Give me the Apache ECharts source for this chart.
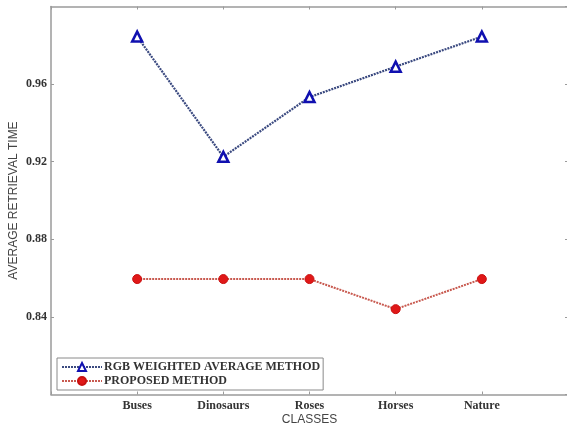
<!DOCTYPE html>
<html><head><meta charset="utf-8">
<script src="https://cdn.jsdelivr.net/npm/echarts@6/dist/echarts.min.js"></script>
<style>html,body{margin:0;padding:0;background:#fff}#c{width:567px;height:423px}</style>
</head><body><div id="c"></div>
<script>
var classes = ['Buses', 'Dinosaurs', 'Roses', 'Horses', 'Nature'];
var rgbWeighted = [0.9845, 0.9225, 0.9533, 0.9690, 0.9845];
var proposed = [0.8595, 0.8595, 0.8595, 0.8440, 0.8595];
var yTicks = { min: 0.80, max: 1.00, step: 0.04 };

var cats = [''].concat(classes).concat(['']);
var pad = function (a) { return [null].concat(a).concat([null]); };
var frame = { show: true, lineStyle: { color: '#9a9a9a', width: 1.5 } };
var tick = { show: true, inside: true, length: 3, lineStyle: { color: '#9a9a9a' } };
var tickFont = { fontFamily: 'Liberation Serif', fontWeight: 'bold', fontSize: 12, color: '#333' };
var nameFont = { fontFamily: 'Liberation Sans', fontSize: 12, color: '#444' };

var chart = echarts.init(document.getElementById('c'), null, { renderer: 'canvas' });
chart.setOption({
  animation: false,
  grid: { left: 51, top: 6.5, width: 517, height: 388, containLabel: false, outerBoundsMode: 'none' },
  legend: {
    orient: 'vertical', left: 57, top: 358,
    padding: [3, 3, 3, 4], itemGap: 2,
    itemWidth: 40, itemHeight: 10,
    borderColor: '#8a8a8a', borderWidth: 1, backgroundColor: '#fff',
    textStyle: { fontFamily: 'Liberation Serif', fontWeight: 'bold', fontSize: 12, color: '#333', padding: [0, 0, 0, -3] },
    data: ['RGB WEIGHTED AVERAGE METHOD', 'PROPOSED METHOD']
  },
  xAxis: [{
    type: 'category', data: cats, boundaryGap: false,
    name: 'CLASSES', nameLocation: 'middle', nameGap: 19, nameMoveOverlap: false, nameTextStyle: nameFont,
    axisLine: frame, axisTick: tick, splitLine: { show: false },
    axisLabel: Object.assign({ margin: 5, interval: 0 }, tickFont)
  }, {
    type: 'category', data: cats, boundaryGap: false, position: 'top',
    axisLine: frame, axisTick: tick, axisLabel: { show: false }, splitLine: { show: false }
  }],
  yAxis: [{
    type: 'value', min: yTicks.min, max: yTicks.max, interval: yTicks.step,
    name: 'AVERAGE RETRIEVAL TIME', nameLocation: 'middle', nameGap: 31, nameMoveOverlap: false, nameTextStyle: nameFont,
    axisLine: frame, axisTick: tick, splitLine: { show: false },
    axisLabel: Object.assign({ margin: 4, showMinLabel: false, showMaxLabel: false,
      formatter: function (v) { return v.toFixed(2); } }, tickFont)
  }, {
    type: 'value', min: yTicks.min, max: yTicks.max, interval: yTicks.step, position: 'right',
    axisLine: frame, axisTick: tick, axisLabel: { show: false }, splitLine: { show: false }
  }],
  series: [{
    name: 'RGB WEIGHTED AVERAGE METHOD', type: 'line', data: pad(rgbWeighted),
    symbol: 'triangle', symbolSize: 10,
    lineStyle: { color: '#3b4a80', width: 2.2, type: [2, 1] },
    itemStyle: { color: '#ffffff', borderColor: '#1010b0', borderWidth: 2.5 }
  }, {
    name: 'PROPOSED METHOD', type: 'line', data: pad(proposed),
    symbol: 'circle', symbolSize: 9,
    lineStyle: { color: '#c85a50', width: 2, type: [2, 1] },
    itemStyle: { color: '#e01818', borderColor: '#c81010', borderWidth: 1 }
  }]
});
</script></body></html>
